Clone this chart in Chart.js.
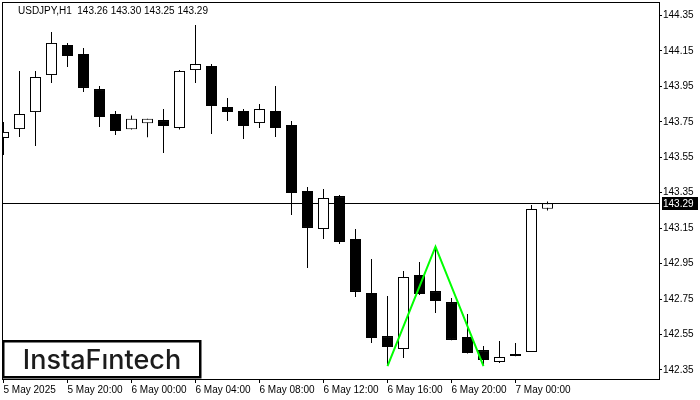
<!DOCTYPE html>
<html>
<head>
<meta charset="utf-8">
<script src="https://cdn.jsdelivr.net/npm/chart.js@4.4.1/dist/chart.umd.min.js"></script>
<style>
  html, body { margin: 0; padding: 0; background: #fff; }
</style>
</head>
<body>
<canvas id="chart" width="700" height="400"></canvas>
<script>
// USDJPY H1, 5 May 16:00 .. 7 May 02:00
const symbol = 'USDJPY,H1';
const opens  = [143.659, 143.709, 143.805, 144.014, 144.184, 144.133, 143.935, 143.794, 143.708, 143.742,
                143.760, 143.715, 144.042, 144.065, 143.834, 143.811, 143.743, 143.811, 143.732, 143.360,
                143.145, 143.331, 143.089, 142.784, 142.541, 142.468, 142.886, 142.795, 142.733, 142.536,
                142.462, 142.395, 142.440, 142.451, 143.26];
const highs  = [143.749, 144.037, 144.037, 144.257, 144.195, 144.167, 143.952, 143.811, 143.785, 143.768,
                143.822, 144.042, 144.296, 144.076, 143.884, 143.822, 143.851, 143.952, 143.755, 143.382,
                143.371, 143.337, 143.145, 142.976, 142.767, 142.908, 142.959, 143.045, 142.756, 142.665,
                142.485, 142.513, 142.502, 143.281, 143.30];
const lows   = [143.563, 143.664, 143.614, 143.969, 144.059, 143.918, 143.721, 143.676, 143.707, 143.663,
                143.574, 143.707, 143.969, 143.681, 143.755, 143.653, 143.715, 143.664, 143.224, 142.925,
                143.089, 143.061, 142.761, 142.502, 142.372, 142.417, 142.773, 142.671, 142.517, 142.443,
                142.372, 142.389, 142.427, 142.451, 143.25];
const closes = [143.693, 143.794, 144.003, 144.195, 144.121, 143.941, 143.777, 143.698, 143.768, 143.768,
                143.726, 144.037, 144.076, 143.839, 143.805, 143.726, 143.822, 143.715, 143.348, 143.151,
                143.320, 143.072, 142.790, 142.530, 142.479, 142.874, 142.778, 142.739, 142.519, 142.445,
                142.406, 142.423, 142.428, 143.258, 143.29];

// x tick every 4 bars
const tickLabels = ['5 May 2025', '5 May 20:00', '6 May 00:00', '6 May 04:00', '6 May 08:00',
                    '6 May 12:00', '6 May 16:00', '6 May 20:00', '7 May 00:00'];
const yTicks = [142.35, 142.55, 142.75, 142.95, 143.15, 143.35, 143.55, 143.75, 143.95, 144.15, 144.35];

// double bottom pattern
const patternX = [24, 27, 30];
const patternY = [142.372, 143.045, 142.372];

const last = closes.length - 1;
const lastPrice = closes[last];

Chart.defaults.font.family = '"Liberation Sans", Arial, sans-serif';
Chart.defaults.font.size = 10;
Chart.defaults.color = '#000';

const chrome = {
    id: 'chrome',
    beforeDatasetsDraw(chart) {
        const { ctx, chartArea } = chart;
        const y = Math.round(chart.scales.y.getPixelForValue(lastPrice)) + 0.5;
        ctx.save();
        ctx.strokeStyle = '#000';
        ctx.lineWidth = 1;
        ctx.beginPath();
        ctx.moveTo(chartArea.left, y);
        ctx.lineTo(chartArea.right, y);
        ctx.stroke();
        ctx.restore();
    },
    afterDraw(chart) {
        const { ctx, chartArea } = chart;
        ctx.save();
        // frame
        ctx.strokeStyle = '#000';
        ctx.lineWidth = 1;
        ctx.strokeRect(chartArea.left - 0.5, chartArea.top - 0.5,
            chartArea.right - chartArea.left + 1, chartArea.bottom - chartArea.top + 1);

        // title
        ctx.fillStyle = '#000';
        ctx.font = '10px "Liberation Sans", Arial, sans-serif';
        ctx.textBaseline = 'alphabetic';
        ctx.textAlign = 'left';
        const ohlc = [opens[last], highs[last], lows[last], closes[last]].map(v => v.toFixed(2)).join(' ');
        ctx.fillText(symbol + '  ' + ohlc, 18, 14);

        // current price label
        const y = Math.round(chart.scales.y.getPixelForValue(lastPrice));
        ctx.fillStyle = '#000';
        ctx.fillRect(chartArea.right + 3, y - 6, 36, 13);
        ctx.fillStyle = '#fff';
        ctx.textBaseline = 'middle';
        ctx.fillText(lastPrice.toFixed(2), chartArea.right + 4, y + 1);

        // logo
        ctx.fillStyle = '#fff';
        ctx.fillRect(3, 341, 197, 36);
        ctx.lineWidth = 2.5;
        ctx.strokeStyle = '#000';
        ctx.strokeRect(3.25, 341.25, 197, 36);
        ctx.fillStyle = '#1c1c1c';
        ctx.font = '500 27px Inter, "Open Sans", sans-serif';
        ctx.textAlign = 'center';
        ctx.textBaseline = 'alphabetic';
        ctx.fillText('InstaFıntech', 102, 369);
        ctx.restore();
    }
};

new Chart(document.getElementById('chart'), {
    type: 'bar',
    data: {
        datasets: [
            {
                type: 'line',
                data: patternX.map((x, i) => ({ x, y: patternY[i] })),
                borderColor: '#00ff00',
                borderWidth: 2,
                pointRadius: 0,
                tension: 0,
                order: 1
            },
            {
                data: opens.map((o, i) => ({ x: i, y: [o, closes[i]] })),
                backgroundColor: opens.map((o, i) => closes[i] >= o ? '#fff' : '#000'),
                borderColor: '#000',
                borderWidth: 1,
                borderSkipped: false,
                barThickness: 11,
                grouped: false,
                inflateAmount: 0,
                order: 2
            },
            {
                data: lows.map((l, i) => ({ x: i, y: [l, highs[i]] })),
                backgroundColor: '#000',
                borderWidth: 0,
                barThickness: 1,
                grouped: false,
                inflateAmount: 0,
                order: 3
            }
        ]
    },
    options: {
        responsive: false,
        animation: false,
        layout: { padding: { left: 3, top: 3, right: 0, bottom: 0 } },
        plugins: {
            legend: { display: false },
            tooltip: { enabled: false }
        },
        scales: {
            x: {
                type: 'linear',
                bounds: 'data',
                offset: false,
                min: -1 / 32,
                max: 41 - 1 / 32,
                grid: { offset: false, drawOnChartArea: false, drawTicks: true, tickLength: 4, color: '#000' },
                border: { display: false },
                afterBuildTicks: s => { s.ticks = tickLabels.map((_, k) => ({ value: k * 4 })); },
                afterFit: s => { s.height = 21; s.paddingLeft = 0; s.paddingRight = 0; },
                ticks: {
                    autoSkip: false,
                    maxRotation: 0,
                    align: 'start',
                    padding: 1,
                    color: '#000',
                    callback: v => tickLabels[Math.round(v / 4)]
                }
            },
            y: {
                position: 'right',
                bounds: 'data',
                min: 142.2987,
                max: 144.4205,
                grid: { drawOnChartArea: false, drawTicks: true, tickLength: 3, color: '#000' },
                border: { display: false },
                afterBuildTicks: s => { s.ticks = yTicks.map(v => ({ value: v })); },
                afterFit: s => { s.width = 41; s.paddingTop = 0; s.paddingBottom = 0; },
                ticks: {
                    padding: 1,
                    color: '#000',
                    callback: v => v.toFixed(2)
                }
            }
        }
    },
    plugins: [chrome]
});
</script>
</body>
</html>
